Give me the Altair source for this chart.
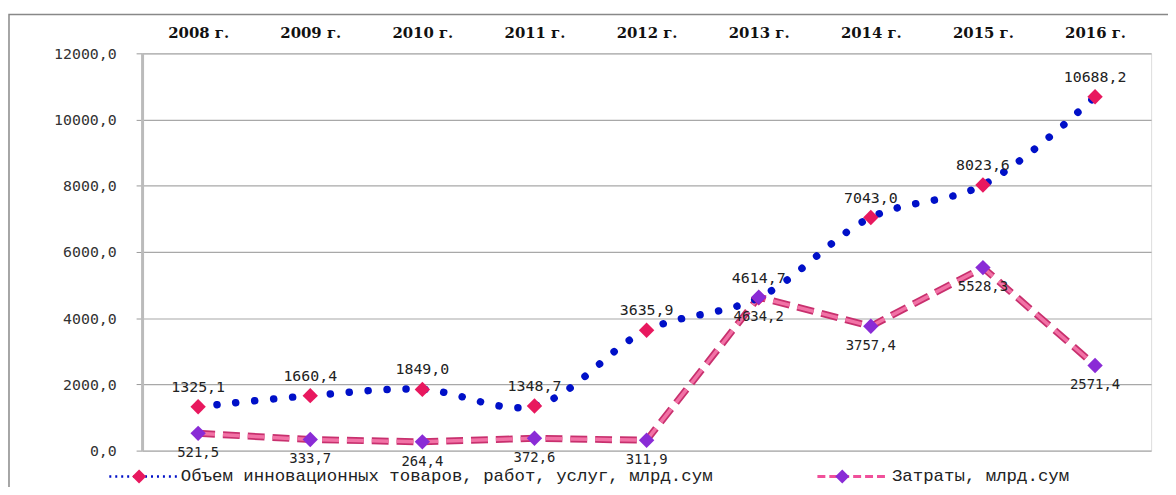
import altair as alt
import pandas as pd

years = ["2008 г.", "2009 г.", "2010 г.", "2011 г.", "2012 г.", "2013 г.", "2014 г.", "2015 г.", "2016 г."]
volume = [1325.1, 1660.4, 1849.0, 1348.7, 3635.9, 4614.7, 7043.0, 8023.6, 10688.2]
costs = [521.5, 333.7, 264.4, 372.6, 311.9, 4634.2, 3757.4, 5528.3, 2571.4]
series_names = ["Объем инновационных товаров, работ, услуг, млрд.сум", "Затраты, млрд.сум"]
y_ticks = [0, 2000, 4000, 6000, 8000, 10000, 12000]

def fmt(v):
    return f"{v:.1f}".replace(".", ",")

df1 = pd.DataFrame({"year": years, "value": volume, "label": [fmt(v) for v in volume]})
df2 = pd.DataFrame({"year": years, "value": costs, "label": [fmt(v) for v in costs]})

W, H = 1016, 400
NUMFONT = "DejaVu Sans Mono"
xs = alt.Scale(domain=years, paddingInner=0, paddingOuter=0)
x_enc = alt.X("year:N", sort=years, scale=xs,
              axis=alt.Axis(orient="top", title=None, domain=False, ticks=False,
                            labelAngle=0, labelFont="DejaVu Serif", labelFontWeight="bold",
                            labelFontSize=15, labelColor="#111", labelPadding=13))
y_enc = alt.Y("value:Q", scale=alt.Scale(domain=[0, 12000], nice=False),
              axis=alt.Axis(title=None, values=y_ticks, tickSize=6, tickColor="#999",
                            gridColor="#a8a8a8", gridWidth=1.2, domain=True, domainColor="#bbb",
                            domainWidth=3, labelFont=NUMFONT, labelFontSize=15,
                            labelColor="#333", labelPadding=20,
                            labelExpr="replace(format(datum.value, '.1f'), '.', ',')"))

frame = alt.Chart(pd.DataFrame({"a": [0]})).mark_rect(
    fill=None, stroke="#888", strokeWidth=1.5, clip=False
).encode(x=alt.value(-134), x2=alt.value(W + 60), y=alt.value(-39), y2=alt.value(H + 80))

base1 = alt.Chart(df1)
base2 = alt.Chart(df2)

line2_outer = base2.mark_line(color="#C8306E", strokeWidth=7, strokeDash=[17, 8]).encode(x=x_enc, y=y_enc)
line2_inner = base2.mark_line(color="#F272A6", strokeWidth=3.5, strokeDash=[17, 8]).encode(x=x_enc, y=y_enc)
line1 = base1.mark_line(color="#0010C8", strokeWidth=7.5, strokeDash=[0.1, 19], strokeCap="round",
                        interpolate="catmull-rom").encode(x=x_enc, y=y_enc)
pts1 = base1.mark_point(shape="diamond", filled=True, size=240, color="#E8185E", opacity=1).encode(x=x_enc, y=y_enc)
pts2 = base2.mark_point(shape="diamond", filled=True, size=240, color="#8A2BD6", opacity=1).encode(x=x_enc, y=y_enc)
txt1 = base1.mark_text(dy=-20, font=NUMFONT, fontSize=15, color="#222").encode(x=x_enc, y=y_enc, text="label:N")
txt2 = base2.mark_text(dy=20, font=NUMFONT, fontSize=14, color="#222").encode(x=x_enc, y=y_enc, text="label:N")

# manual legend
leg_y = H + 26
LEGFONT = "Liberation Mono"
legd = alt.Chart(pd.DataFrame({"a": [0]}))
leg_line1 = legd.mark_rule(color="#0010C8", strokeWidth=2.5, strokeDash=[2, 4], clip=False).encode(
    x=alt.value(-33), x2=alt.value(35), y=alt.value(leg_y))
leg_pt1 = legd.mark_point(shape="diamond", filled=True, size=200, color="#E8185E", opacity=1, clip=False).encode(
    x=alt.value(-3), y=alt.value(leg_y))
leg_txt1 = legd.mark_text(align="left", baseline="alphabetic", font=LEGFONT, fontSize=17.5, color="#222", clip=False).encode(
    x=alt.value(39), y=alt.value(H + 31), text=alt.value(series_names[0]))
leg_line2 = legd.mark_rule(color="#F0509A", strokeWidth=3, strokeDash=[8, 4], clip=False).encode(
    x=alt.value(680), x2=alt.value(749), y=alt.value(leg_y))
leg_pt2 = legd.mark_point(shape="diamond", filled=True, size=200, color="#8A2BD6", opacity=1, clip=False).encode(
    x=alt.value(705), y=alt.value(leg_y))
leg_txt2 = legd.mark_text(align="left", baseline="alphabetic", font=LEGFONT, fontSize=17.5, color="#222", clip=False).encode(
    x=alt.value(755), y=alt.value(H + 31), text=alt.value(series_names[1]))

chart = alt.layer(
    frame, line2_outer, line2_inner, line1, pts1, pts2, txt1, txt2,
    leg_line1, leg_pt1, leg_txt1, leg_line2, leg_pt2, leg_txt2
).properties(
    width=W, height=H,
    autosize=alt.AutoSizeParams(type="none"),
    padding={"left": 135, "top": 44, "right": 17, "bottom": 35},
).configure_view(stroke="#aaa", strokeWidth=3).configure(background="white")

chart.save("out.html", embed_options={"renderer": "svg", "actions": False})
